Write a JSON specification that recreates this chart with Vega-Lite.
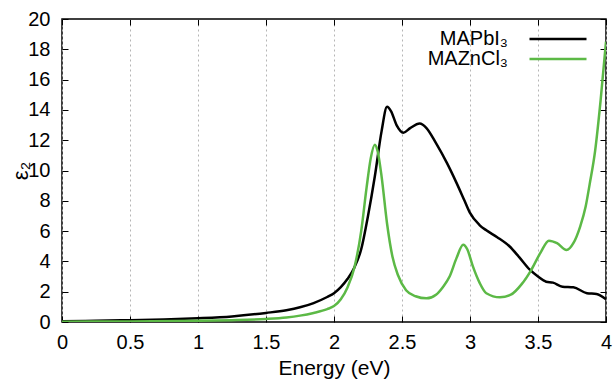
{
  "$schema": "https://vega.github.io/schema/vega-lite/v6.json",
  "width": 544,
  "height": 303,
  "autosize": {"type": "none"},
  "padding": {"left": 62, "top": 19, "right": 7, "bottom": 60},
  "background": "white",
  "config": {
    "font": "Liberation Sans",
    "view": {"stroke": "black", "strokeWidth": 1.5},
    "axis": {"labelFont": "Liberation Sans", "titleFont": "Liberation Sans", "labelFontSize": 20, "titleFontSize": 21, "titleFontWeight": "normal", "labelColor": "black", "titleColor": "black", "domain": false, "tickColor": "black", "tickSize": -6, "tickWidth": 1}
  },
  "datasets": {
    "curves": [
      {"energy": 0, "eps2": 0.05, "material": "MAPbI₃"},
      {"energy": 0.25, "eps2": 0.08, "material": "MAPbI₃"},
      {"energy": 0.5, "eps2": 0.12, "material": "MAPbI₃"},
      {"energy": 0.75, "eps2": 0.17, "material": "MAPbI₃"},
      {"energy": 1.0, "eps2": 0.25, "material": "MAPbI₃"},
      {"energy": 1.25, "eps2": 0.37, "material": "MAPbI₃"},
      {"energy": 1.5, "eps2": 0.6, "material": "MAPbI₃"},
      {"energy": 1.65, "eps2": 0.78, "material": "MAPbI₃"},
      {"energy": 1.75, "eps2": 0.97, "material": "MAPbI₃"},
      {"energy": 1.85, "eps2": 1.25, "material": "MAPbI₃"},
      {"energy": 1.95, "eps2": 1.65, "material": "MAPbI₃"},
      {"energy": 2.0, "eps2": 1.9, "material": "MAPbI₃"},
      {"energy": 2.05, "eps2": 2.3, "material": "MAPbI₃"},
      {"energy": 2.1, "eps2": 2.85, "material": "MAPbI₃"},
      {"energy": 2.15, "eps2": 3.6, "material": "MAPbI₃"},
      {"energy": 2.2, "eps2": 4.8, "material": "MAPbI₃"},
      {"energy": 2.25, "eps2": 7.0, "material": "MAPbI₃"},
      {"energy": 2.3, "eps2": 9.6, "material": "MAPbI₃"},
      {"energy": 2.35, "eps2": 12.6, "material": "MAPbI₃"},
      {"energy": 2.39, "eps2": 14.2, "material": "MAPbI₃"},
      {"energy": 2.42, "eps2": 13.9, "material": "MAPbI₃"},
      {"energy": 2.46, "eps2": 13.0, "material": "MAPbI₃"},
      {"energy": 2.51, "eps2": 12.5, "material": "MAPbI₃"},
      {"energy": 2.56, "eps2": 12.8, "material": "MAPbI₃"},
      {"energy": 2.63, "eps2": 13.1, "material": "MAPbI₃"},
      {"energy": 2.68, "eps2": 12.8, "material": "MAPbI₃"},
      {"energy": 2.75, "eps2": 11.8, "material": "MAPbI₃"},
      {"energy": 2.83, "eps2": 10.5, "material": "MAPbI₃"},
      {"energy": 2.9, "eps2": 9.2, "material": "MAPbI₃"},
      {"energy": 2.96, "eps2": 8.0, "material": "MAPbI₃"},
      {"energy": 3.0, "eps2": 7.2, "material": "MAPbI₃"},
      {"energy": 3.07, "eps2": 6.4, "material": "MAPbI₃"},
      {"energy": 3.12, "eps2": 6.05, "material": "MAPbI₃"},
      {"energy": 3.2, "eps2": 5.6, "material": "MAPbI₃"},
      {"energy": 3.29, "eps2": 5.0, "material": "MAPbI₃"},
      {"energy": 3.36, "eps2": 4.3, "material": "MAPbI₃"},
      {"energy": 3.44, "eps2": 3.45, "material": "MAPbI₃"},
      {"energy": 3.5, "eps2": 3.0, "material": "MAPbI₃"},
      {"energy": 3.56, "eps2": 2.66, "material": "MAPbI₃"},
      {"energy": 3.61, "eps2": 2.6, "material": "MAPbI₃"},
      {"energy": 3.68, "eps2": 2.33, "material": "MAPbI₃"},
      {"energy": 3.76, "eps2": 2.29, "material": "MAPbI₃"},
      {"energy": 3.86, "eps2": 1.9, "material": "MAPbI₃"},
      {"energy": 3.93, "eps2": 1.85, "material": "MAPbI₃"},
      {"energy": 4.0, "eps2": 1.5, "material": "MAPbI₃"},
      {"energy": 0, "eps2": 0.02, "material": "MAZnCl₃"},
      {"energy": 0.5, "eps2": 0.04, "material": "MAZnCl₃"},
      {"energy": 1.0, "eps2": 0.08, "material": "MAZnCl₃"},
      {"energy": 1.25, "eps2": 0.12, "material": "MAZnCl₃"},
      {"energy": 1.5, "eps2": 0.2, "material": "MAZnCl₃"},
      {"energy": 1.65, "eps2": 0.3, "material": "MAZnCl₃"},
      {"energy": 1.75, "eps2": 0.42, "material": "MAZnCl₃"},
      {"energy": 1.85, "eps2": 0.6, "material": "MAZnCl₃"},
      {"energy": 1.95, "eps2": 0.85, "material": "MAZnCl₃"},
      {"energy": 2.0, "eps2": 1.05, "material": "MAZnCl₃"},
      {"energy": 2.05, "eps2": 1.5, "material": "MAZnCl₃"},
      {"energy": 2.1, "eps2": 2.3, "material": "MAZnCl₃"},
      {"energy": 2.15, "eps2": 3.6, "material": "MAZnCl₃"},
      {"energy": 2.2, "eps2": 6.0, "material": "MAZnCl₃"},
      {"energy": 2.24, "eps2": 8.9, "material": "MAZnCl₃"},
      {"energy": 2.27, "eps2": 10.8, "material": "MAZnCl₃"},
      {"energy": 2.3, "eps2": 11.7, "material": "MAZnCl₃"},
      {"energy": 2.32, "eps2": 11.3, "material": "MAZnCl₃"},
      {"energy": 2.35, "eps2": 9.6, "material": "MAZnCl₃"},
      {"energy": 2.39, "eps2": 6.5, "material": "MAZnCl₃"},
      {"energy": 2.43, "eps2": 4.3, "material": "MAZnCl₃"},
      {"energy": 2.47, "eps2": 3.1, "material": "MAZnCl₃"},
      {"energy": 2.53, "eps2": 2.1, "material": "MAZnCl₃"},
      {"energy": 2.6, "eps2": 1.7, "material": "MAZnCl₃"},
      {"energy": 2.68, "eps2": 1.56, "material": "MAZnCl₃"},
      {"energy": 2.75, "eps2": 1.8, "material": "MAZnCl₃"},
      {"energy": 2.8, "eps2": 2.3, "material": "MAZnCl₃"},
      {"energy": 2.85, "eps2": 3.0, "material": "MAZnCl₃"},
      {"energy": 2.9, "eps2": 4.2, "material": "MAZnCl₃"},
      {"energy": 2.95, "eps2": 5.1, "material": "MAZnCl₃"},
      {"energy": 2.98, "eps2": 4.8, "material": "MAZnCl₃"},
      {"energy": 3.02, "eps2": 3.7, "material": "MAZnCl₃"},
      {"energy": 3.07, "eps2": 2.6, "material": "MAZnCl₃"},
      {"energy": 3.12, "eps2": 1.9, "material": "MAZnCl₃"},
      {"energy": 3.22, "eps2": 1.63, "material": "MAZnCl₃"},
      {"energy": 3.3, "eps2": 1.8, "material": "MAZnCl₃"},
      {"energy": 3.38, "eps2": 2.5, "material": "MAZnCl₃"},
      {"energy": 3.45, "eps2": 3.43, "material": "MAZnCl₃"},
      {"energy": 3.52, "eps2": 4.6, "material": "MAZnCl₃"},
      {"energy": 3.58, "eps2": 5.37, "material": "MAZnCl₃"},
      {"energy": 3.64, "eps2": 5.2, "material": "MAZnCl₃"},
      {"energy": 3.71, "eps2": 4.75, "material": "MAZnCl₃"},
      {"energy": 3.76, "eps2": 5.2, "material": "MAZnCl₃"},
      {"energy": 3.81, "eps2": 6.3, "material": "MAZnCl₃"},
      {"energy": 3.85, "eps2": 7.6, "material": "MAZnCl₃"},
      {"energy": 3.88, "eps2": 9.1, "material": "MAZnCl₃"},
      {"energy": 3.92, "eps2": 11.3, "material": "MAZnCl₃"},
      {"energy": 3.96, "eps2": 14.6, "material": "MAZnCl₃"},
      {"energy": 4.0, "eps2": 18.5, "material": "MAZnCl₃"}
    ]
  },
  "data": {"name": "curves"},
  "resolve": {"axis": {"x": "independent", "y": "independent"}},
  "layer": [
    {
      "mark": {"type": "line", "strokeWidth": 2.5, "interpolate": "monotone", "clip": true},
      "encoding": {
        "x": {"field": "energy", "type": "quantitative", "scale": {"domain": [0, 4], "nice": false},
          "axis": {"title": "Energy (eV)", "values": [0, 0.5, 1, 1.5, 2, 2.5, 3, 3.5, 4], "format": "~g", "grid": true, "gridDash": [2, 3], "gridColor": "#b5b5b5", "gridWidth": 1, "labelPadding": 16, "titlePadding": 5, "labelFlush": false, "labelFontSize": 20, "titleFontSize": 21}},
        "y": {"field": "eps2", "type": "quantitative", "scale": {"domain": [0, 20], "nice": false},
          "axis": {"title": "ε₂", "values": [0, 2, 4, 6, 8, 10, 12, 14, 16, 18, 20], "grid": false, "labelPadding": 18, "titlePadding": -5, "titleAngle": 270, "titleFontSize": 22, "labelFontSize": 20}},
        "color": {"field": "material", "type": "nominal",
          "scale": {"domain": ["MAPbI₃", "MAZnCl₃"], "range": ["#000000", "#5cb946"]},
          "legend": {"title": null, "orient": "none", "legendX": 486, "legendY": 10, "padding": 0, "symbolType": "M-5,0H5", "symbolSize": 130, "symbolStrokeWidth": 2.5, "symbolFillColor": "transparent", "labelAlign": "right", "labelOffset": -60, "labelFontSize": 20, "labelFont": "Liberation Sans", "labelColor": "black", "rowPadding": 0, "labelLimit": 300}}
      }
    },
    {
      "mark": {"type": "line", "opacity": 0},
      "encoding": {
        "x": {"field": "energy", "type": "quantitative", "scale": {"domain": [0, 4], "nice": false},
          "axis": {"orient": "top", "title": null, "labels": false, "values": [0, 0.5, 1, 1.5, 2, 2.5, 3, 3.5, 4], "grid": false}},
        "y": {"field": "eps2", "type": "quantitative", "scale": {"domain": [0, 20], "nice": false},
          "axis": {"orient": "right", "title": null, "labels": false, "values": [0, 2, 4, 6, 8, 10, 12, 14, 16, 18, 20], "grid": false}},
        "detail": {"field": "material", "type": "nominal"}
      }
    }
  ]
}
